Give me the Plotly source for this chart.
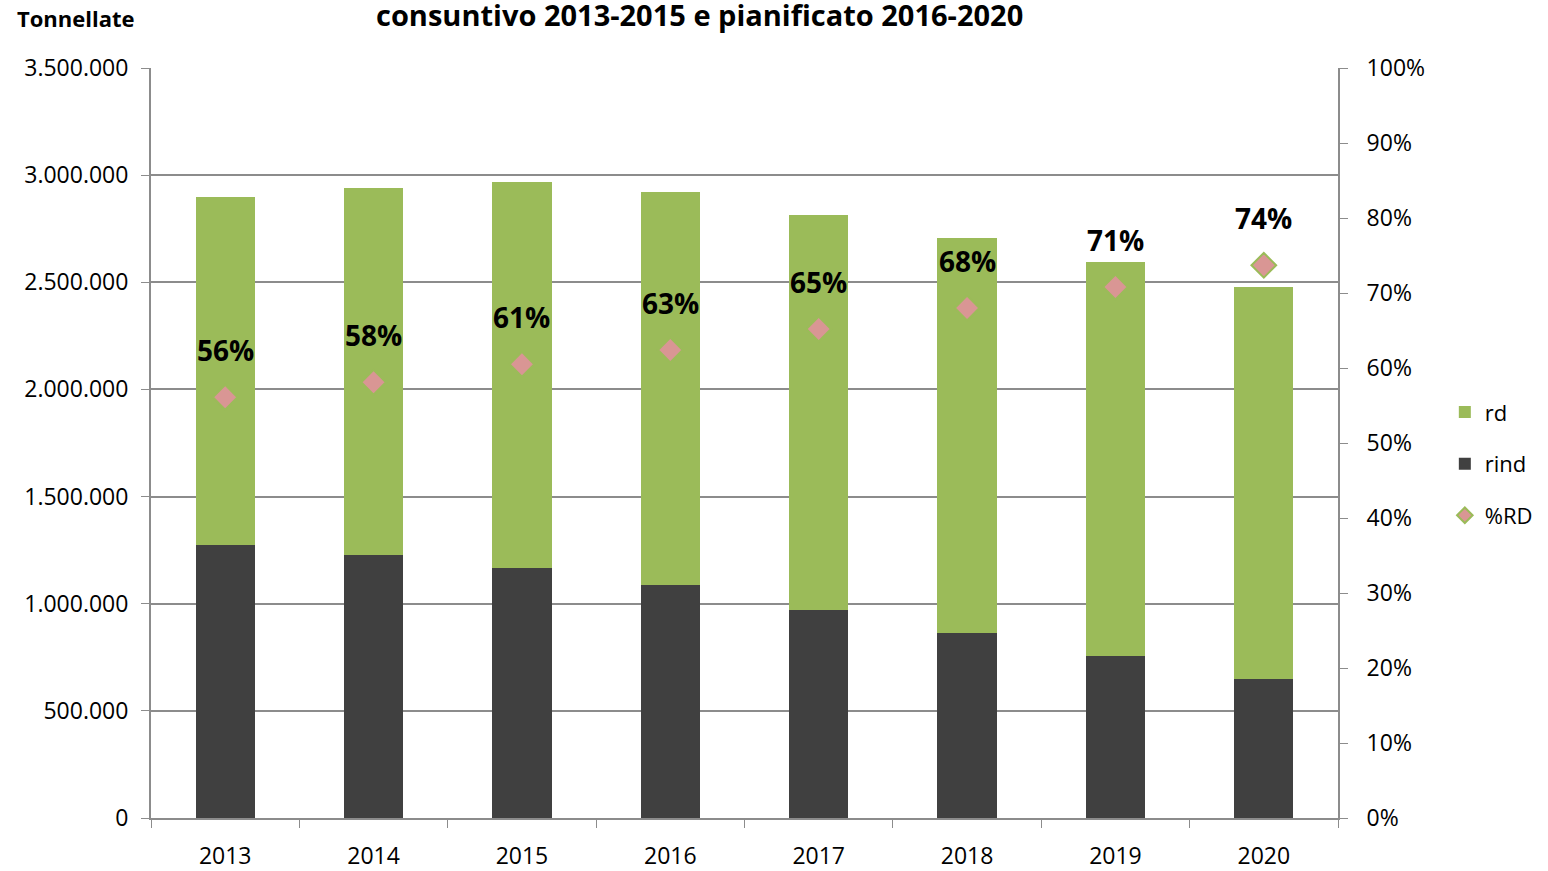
import plotly.graph_objects as go

years = ["2013", "2014", "2015", "2016", "2017", "2018", "2019", "2020"]
rind = [1274000, 1227000, 1167000, 1087000, 971000, 863000, 756000, 649000]
totale = [2898000, 2940000, 2968000, 2921000, 2814000, 2707000, 2595000, 2478000]
rd = [t - r for t, r in zip(totale, rind)]
pct_rd = [0.561, 0.581, 0.605, 0.624, 0.652, 0.680, 0.708, 0.737]
pct_labels = ["56%", "58%", "61%", "63%", "65%", "68%", "71%", "74%"]

FONT = "Open Sans"
GRID = "#8c8c8c"

fig = go.Figure()
fig.add_trace(go.Bar(x=years, y=rind, name="rind", marker=dict(color="#404040", line=dict(width=0)),
                     legendrank=2, legendgroup="b"))
fig.add_trace(go.Bar(x=years, y=rd, name="rd", marker=dict(color="#9BBB59", line=dict(width=0)),
                     legendrank=1, legendgroup="a"))
fig.add_trace(go.Scatter(x=years, y=pct_rd, name="%RD", mode="markers", yaxis="y2",
                         marker=dict(symbol="diamond", size=19, color="#D99694",
                                     line=dict(color="#9BBB59", width=2)),
                         legendrank=3, legendgroup="c"))

for i, (p, lab) in enumerate(zip(pct_rd, pct_labels)):
    fig.add_annotation(x=i, y=p, xref="x", yref="y2", text="<b>" + lab + "</b>", showarrow=False,
                       yshift=47, font=dict(family=FONT, size=28, color="black"))

fig.add_annotation(xref="paper", yref="paper", x=-0.1146, y=1.0667, xanchor="left", yanchor="middle",
                   text="<b>Tonnellate</b>", showarrow=False,
                   font=dict(family=FONT, size=22, color="black"))
fig.add_annotation(xref="paper", yref="paper", x=0.4625, y=1.071, xanchor="center", yanchor="middle",
                   text="<b>consuntivo 2013-2015 e pianificato 2016-2020</b>", showarrow=False,
                   font=dict(family=FONT, size=29, color="black"))

fig.update_layout(
    width=1548, height=871,
    barmode="stack", bargap=0.6,
    separators=",.",
    paper_bgcolor="white", plot_bgcolor="white",
    margin=dict(l=151, r=210, t=68, b=53, pad=0, autoexpand=False),
    font=dict(family=FONT, size=23, color="black"),
    showlegend=True,
    legend=dict(x=1.09, y=0.569, xanchor="left", yanchor="top",
                font=dict(family=FONT, size=22, color="black"),
                tracegroupgap=20, itemsizing="constant", traceorder="grouped",
                bgcolor="rgba(0,0,0,0)"),
    xaxis=dict(type="category", range=[-0.5, 7.5], tickson="boundaries", ticks="outside", ticklen=8,
               tickcolor=GRID, showline=True, linecolor=GRID, linewidth=2, tickangle=0,
               showgrid=False, automargin=False, ticklabelstandoff=16,
               tickfont=dict(family=FONT, size=23)),
    yaxis=dict(range=[0, 3500000], dtick=500000, tickformat=",d", ticks="outside", ticklen=8,
               tickcolor=GRID, showline=True, linecolor=GRID, linewidth=2,
               showgrid=True, gridcolor=GRID, gridwidth=2, zeroline=False, automargin=False,
               ticklabelstandoff=8, tickfont=dict(family=FONT, size=23)),
    yaxis2=dict(range=[0, 1], dtick=0.1, tickformat=".0%", overlaying="y", side="right",
                ticks="outside", ticklen=8, tickcolor=GRID, showline=True, linecolor=GRID,
                linewidth=2, showgrid=False, zeroline=False, ticklabelstandoff=14, automargin=False,
                tickfont=dict(family=FONT, size=23)),
)

fig.write_html("out.html")
